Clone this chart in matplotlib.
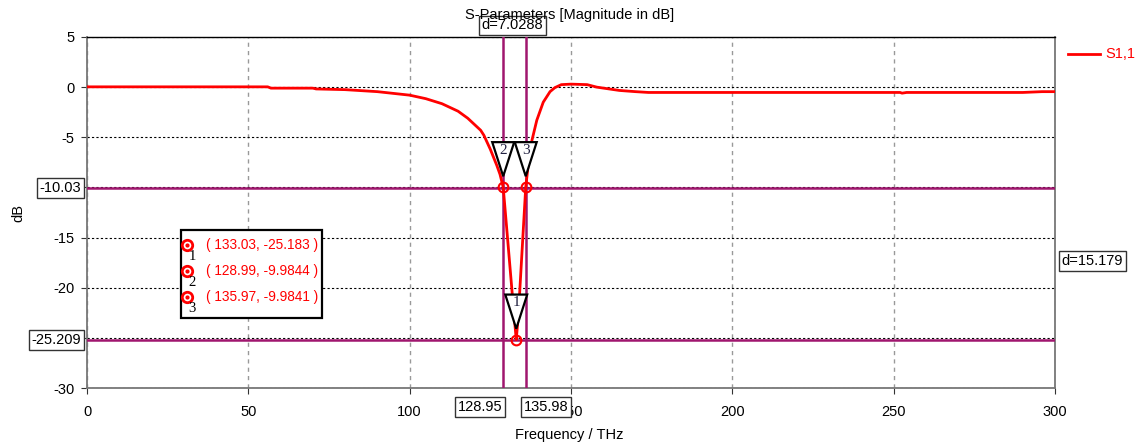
import matplotlib
matplotlib.use("Agg")
import matplotlib.pyplot as plt
from matplotlib.patches import Polygon, Rectangle
from matplotlib.lines import Line2D
import matplotlib.transforms as mtransforms

plt.rcParams['font.family'] = ['Liberation Sans', 'DejaVu Sans']
plt.rcParams['axes.unicode_minus'] = False

# S1,1 magnitude (dB) versus frequency (THz)
freq = [0, 20, 40, 56, 57, 70, 71, 80, 90, 100, 105, 110, 115, 118, 120, 122,
        123, 124, 125, 126, 127, 128, 128.99, 130, 131, 132, 132.6, 133.03,
        133.5, 134, 135, 135.97, 137, 137.9, 139.4, 141.4, 143.5, 145, 147,
        150, 152, 155, 158, 165, 170, 174, 180, 200, 220, 240, 252, 252.6,
        254, 270, 290, 296, 300]
s11 = [0.03, 0.03, 0.03, 0.03, -0.1, -0.1, -0.18, -0.25, -0.45, -0.8, -1.15,
       -1.65, -2.4, -3.1, -3.7, -4.3, -4.8, -5.5, -6.2, -7.0, -7.8, -8.7,
       -9.9844, -13.8, -17.6, -21.4, -23.6, -25.183, -23.4, -21.0, -15.4,
       -9.9841, -7.0, -5.3, -3.3, -1.5, -0.45, -0.05, 0.25, 0.3, 0.28, 0.25,
       0.0, -0.33, -0.45, -0.53, -0.53, -0.53, -0.53, -0.53, -0.53, -0.6,
       -0.53, -0.53, -0.53, -0.45, -0.45]

# Curve markers
marker_ids = ['1', '2', '3']
marker_x = [133.03, 128.99, 135.97]
marker_y = [-25.183, -9.9844, -9.9841]

# Measurement cursors
vline_x = [128.95, 135.98]
hline_y = [-10.03, -25.209]
dx_text = 'd=7.0288'
dy_text = 'd=15.179'

xticks = [0, 50, 100, 150, 200, 250, 300]
yticks = [5, 0, -5, -10, -15, -20, -25, -30]
ytick_labels = ['5', '0', '-5', '', '-15', '-20', '', '-30']

W, H = 1136, 447
fig = plt.figure(figsize=(W / 100, H / 100), dpi=100)
L, R, T, B = 87, 1055, 37, 388
ax = fig.add_axes([L / W, 1 - B / H, (R - L) / W, (B - T) / H])
ax.set_xlim(0, 300)
ax.set_ylim(-30, 5)
ax.set_xticks(xticks)
ax.set_yticks(yticks)
ax.set_yticklabels(ytick_labels)
ax.tick_params(direction='out', length=4, width=0.8, colors='#333333',
               labelsize=10.5, labelcolor='black', pad=5)
ax.tick_params(axis='x', pad=8)

ax.yaxis.grid(True, color='black', linestyle=(0, (2, 2)), linewidth=0.8)
ax.xaxis.grid(True, color='#999999', linestyle=(0, (3, 3)), linewidth=1.0)
ax.set_axisbelow(True)

for side in ['left', 'right', 'bottom']:
    ax.spines[side].set_color('#777777')
    ax.spines[side].set_linewidth(1.3)
ax.spines['top'].set_color('black')
ax.spines['top'].set_linewidth(1.0)

fig.text(570 / W, 1 - 15 / H, 'S-Parameters [Magnitude in dB]', ha='center',
         va='center', fontsize=10.5)
fig.text(569 / W, 1 - 435 / H, 'Frequency / THz', ha='center', va='center',
         fontsize=10.5)
fig.text(18 / W, 1 - 213 / H, 'dB', ha='center', va='center', rotation=90,
         fontsize=10.5)

cursor_color = '#a0166e'
for xv in vline_x:
    ax.axvline(xv, color=cursor_color, linewidth=1.8, zorder=3)
for yv in hline_y:
    ax.axhline(yv, color=cursor_color, linewidth=1.8, zorder=3)

ax.plot(freq, s11, color='#ff0000', linewidth=2.0, zorder=4)

# Marker triangles with their ids, apex just above the marker point
tri_w, tri_h, gap = 3.4, 3.4, 1.1
for mid, mx, my in zip(marker_ids, marker_x, marker_y):
    apex = my + gap
    tri = Polygon([[mx - tri_w, apex + tri_h], [mx + tri_w, apex + tri_h],
                   [mx, apex]], closed=True, facecolor='white',
                  edgecolor='black', linewidth=1.6, zorder=5)
    ax.add_patch(tri)
    ax.text(mx, apex + tri_h - 0.15, mid, ha='center', va='top', fontsize=11,
            family=['Liberation Serif', 'DejaVu Serif'], color='#202040', zorder=6)
ax.plot(marker_x, marker_y, linestyle='none', marker='o', markersize=7,
        markerfacecolor='none', markeredgecolor='#ff0000', markeredgewidth=1.5,
        zorder=6)

box = dict(boxstyle='square,pad=0.2', facecolor='white', edgecolor='#333333',
           linewidth=1.0)

# Cursor value readouts
ylab = mtransforms.blended_transform_factory(ax.transAxes, ax.transData)
for yv in hline_y:
    ax.text(-0.006, yv, f'{yv:g}', transform=ylab, ha='right', va='center',
            fontsize=10.5, bbox=box, zorder=7, clip_on=False)
xlab = mtransforms.blended_transform_factory(ax.transData, ax.transAxes)
ax.text(vline_x[0] - 0.3, -0.055, f'{vline_x[0]:.2f}', transform=xlab,
        ha='right', va='center', fontsize=10.5, bbox=box, zorder=7, clip_on=False)
ax.text(vline_x[1] - 0.6, -0.055, f'{vline_x[1]:.2f}', transform=xlab,
        ha='left', va='center', fontsize=10.5, bbox=box, zorder=7, clip_on=False)
ax.text(sum(vline_x) / 2 - 0.6, 1.033, dx_text, transform=xlab, ha='center',
        va='center', fontsize=10.5, bbox=box, zorder=7, clip_on=False)
ax.text(1.007, sum(hline_y) / 2 + 0.3, dy_text, transform=ylab, ha='left',
        va='center', fontsize=10.5, bbox=box, zorder=7, clip_on=False)

# Marker info table
bx0, by0, bw, bh = 181, 230, 141, 88
fig.patches.append(Rectangle((bx0 / W, 1 - (by0 + bh) / H), bw / W, bh / H,
                             transform=fig.transFigure, facecolor='white',
                             edgecolor='black', linewidth=1.6, zorder=8))
for i, (mid, mx, my) in enumerate(zip(marker_ids, marker_x, marker_y)):
    yrow = by0 + 15 + 26 * i
    fig.lines.append(Line2D([187 / W], [1 - yrow / H], transform=fig.transFigure,
                            marker='o', markersize=7.5, markerfacecolor='none',
                            markeredgecolor='#ff0000', markeredgewidth=2.0,
                            zorder=9))
    fig.lines.append(Line2D([187 / W], [1 - yrow / H], transform=fig.transFigure,
                            marker='o', markersize=2, color='#ff0000', zorder=9))
    fig.text(192 / W, 1 - (yrow + 12) / H, mid, ha='center', va='center',
             fontsize=10.5, family=['Liberation Serif', 'DejaVu Serif'],
             color='black', zorder=9)
    fig.text(206 / W, 1 - yrow / H, f'( {mx:.2f}, {my:g} )', ha='left',
             va='center', fontsize=9.8, color='#ff0000', zorder=9)

# Legend entry
fig.lines.append(Line2D([1068 / W, 1100 / W], [1 - 54 / H, 1 - 54 / H],
                        transform=fig.transFigure, color='#ff0000', linewidth=2.0))
fig.text(1105 / W, 1 - 54 / H, 'S1,1', ha='left', va='center', fontsize=10.5,
         color='#ff0000')

fig.savefig('out.png', dpi=100)
